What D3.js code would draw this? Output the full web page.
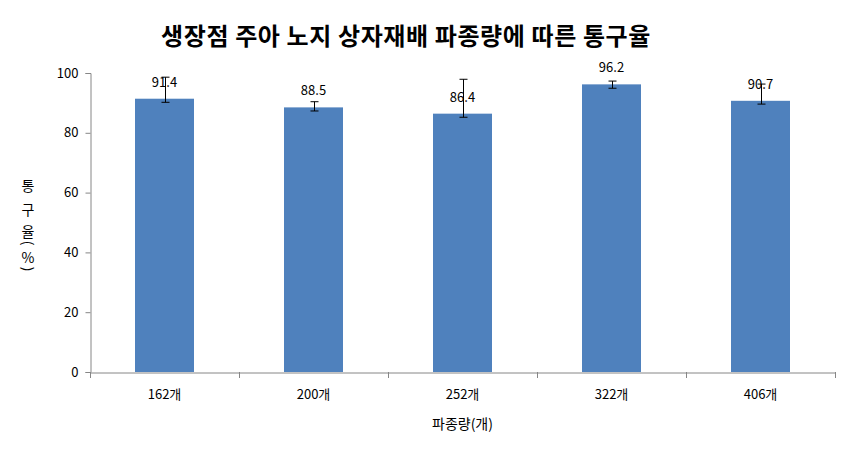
<!DOCTYPE html>
<html><head><meta charset="utf-8">
<script src="https://cdn.jsdelivr.net/npm/d3@7"></script>
<style>body{margin:0;background:#fff;}text{font-family:"Noto Sans CJK KR","Noto Sans",sans-serif;}</style>
</head><body>
<svg id="c" width="846" height="454"></svg>
<script>
const categories = ["162개","200개","252개","322개","406개"];
const values = [91.4, 88.5, 86.4, 96.2, 90.7];
const errPlus = [7.2, 1.9, 11.5, 1.1, 5.6];
const errMinus = [1.2, 1.2, 1.2, 1.3, 1.1];
const yTicks = [0,20,40,60,80,100];
const title = "생장점 주아 노지 상자재배 파종량에 따른 통구율";
const xTitle = "파종량(개)";
const yTitleChars = ["통","구","율","(","%",")"];

const svg = d3.select("#c");
const m = {l:90, r:11, t:73, b:82};
const W = 846, H = 454;
const xb = d3.scaleBand().domain(categories).range([m.l, W-m.r]);
const y = d3.scaleLinear().domain([0,100]).range([H-m.b, m.t]);
const axisColor = "#868686";

// title
svg.append("text").attr("x",406).attr("y",45).attr("text-anchor","middle")
  .attr("font-size",24).attr("letter-spacing",0.6).attr("font-weight","bold").attr("fill","#000").text(title);

// bars
svg.selectAll("rect.bar").data(values).join("rect").attr("class","bar")
  .attr("x",(d,i)=>xb(categories[i])+xb.bandwidth()/2-29.5)
  .attr("width",59)
  .attr("y",d=>y(d)).attr("height",d=>y(0)-y(d)).attr("fill","#4F81BD");

// error bars
const eg = svg.append("g").attr("stroke","#000").attr("stroke-width",1);
values.forEach((v,i)=>{
  const cx = Math.round(xb(categories[i])+xb.bandwidth()/2)+0.5;
  const y1 = y(v+errPlus[i]), y2 = y(v-errMinus[i]);
  eg.append("line").attr("x1",cx).attr("x2",cx).attr("y1",y1).attr("y2",y2);
  eg.append("line").attr("x1",cx-4).attr("x2",cx+4).attr("y1",y1).attr("y2",y1);
  eg.append("line").attr("x1",cx-4).attr("x2",cx+4).attr("y1",y2).attr("y2",y2);
});

// value labels
svg.selectAll("text.val").data(values).join("text").attr("class","val")
  .attr("x",(d,i)=>xb(categories[i])+xb.bandwidth()/2)
  .attr("y",d=>y(d)-12).attr("text-anchor","middle").attr("font-size",13).attr("fill","#000")
  .text(d=>d.toFixed(1));

// y axis
const ya = svg.append("g").attr("transform",`translate(${m.l+0.5},0)`)
  .call(d3.axisLeft(y).tickValues(yTicks).tickSize(5).tickPadding(7));
ya.select(".domain").attr("stroke",axisColor);
ya.selectAll(".tick line").attr("stroke",axisColor);
ya.selectAll(".tick text").attr("font-size",13).attr("fill","#000")
  .attr("font-family","'Noto Sans CJK KR',sans-serif");

// x axis
const xa = svg.append("g").attr("transform",`translate(0,${H-m.b+0.5})`)
  .call(d3.axisBottom(xb).tickSize(0).tickPadding(17));
xa.select(".domain").attr("stroke",axisColor);
xa.selectAll(".tick text").attr("font-size",13).attr("fill","#000")
  .attr("font-family","'Noto Sans CJK KR',sans-serif");
// boundary ticks
const bounds = categories.map(c=>xb(c)).concat([xb(categories[categories.length-1])+xb.bandwidth()]);
svg.append("g").selectAll("line").data(bounds).join("line")
  .attr("x1",d=>Math.round(d)+0.5).attr("x2",d=>Math.round(d)+0.5)
  .attr("y1",H-m.b).attr("y2",H-m.b+6).attr("stroke",axisColor);

// x title
svg.append("text").attr("x",(m.l+W-m.r)/2).attr("y",429).attr("text-anchor","middle")
  .attr("font-size",14).attr("fill","#000").text(xTitle);

// y title (stacked; parentheses rotated like Excel's stacked text)
const yPos = [185,209,231,243,257,269];
const yg = svg.append("g");
yTitleChars.forEach((ch,i)=>{
  const rot = (ch==="("||ch===")");
  yg.append("text").attr("x",0).attr("y",0).attr("text-anchor","middle")
    .attr("dominant-baseline","central").attr("font-size",14).attr("fill","#000")
    .attr("transform", rot ? `translate(29,${yPos[i]}) rotate(90)` : `translate(28,${yPos[i]})`)
    .text(ch);
});
</script>
</body></html>
